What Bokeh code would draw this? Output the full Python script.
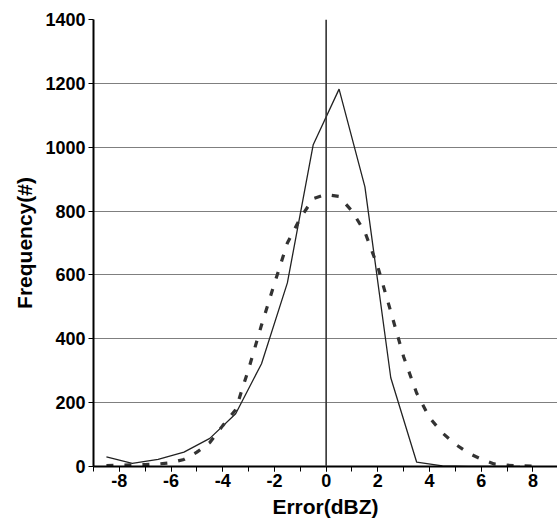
from bokeh.plotting import figure
from bokeh.models import FixedTicker, Span, Range1d
from bokeh.embed import file_html
from bokeh.resources import INLINE

# Solid series: frequency per 1-dBZ bin (bin centres)
bin_centers = [-8.5, -7.5, -6.5, -5.5, -4.5, -3.5, -2.5, -1.5, -0.5, 0.5, 1.5, 2.5, 3.5, 4.5, 5.5, 6.5, 7.5]
solid_freq = [30, 10, 22, 45, 88, 165, 322, 575, 1008, 1182, 876, 278, 14, 2, 0, 0, 0]

# Dashed (smoothed) series, every 0.5 dBZ
dashed_x = [-8.5, -8, -7.5, -7, -6.5, -6, -5.5, -5, -4.5, -4, -3.5, -3, -2.5, -2, -1.5, -1, -0.5,
            0, 0.5, 1, 1.5, 2, 2.5, 3, 3.5, 4, 4.5, 5, 5.5, 6, 6.5, 7, 7.5, 8]
dashed_freq = [3, 4, 5, 6, 8, 12, 22, 45, 75, 128, 178, 305, 443, 573, 700, 778, 839,
               852, 846, 800, 734, 625, 485, 343, 230, 153, 105, 70, 42, 23, 8, 4, 2, 1]

x_tick_values = [-8, -6, -4, -2, 0, 2, 4, 6, 8]
x_tick_labels = ["-8", "-6", "-4", "-2", "0", "2", "4", "6", "8"]
x_minor_values = list(range(-9, 10))
y_tick_values = [0, 200, 400, 600, 800, 1000, 1200, 1400]

FONT = "Liberation Sans"

p = figure(width=557, height=521, output_backend="svg", toolbar_location=None,
           x_range=Range1d(-9, 8.95), y_range=Range1d(0, 1400),
           min_border_left=93, min_border_top=19, min_border_right=0, min_border_bottom=55)
p.outline_line_color = None
p.background_fill_color = "white"
p.border_fill_color = "white"

p.xgrid.visible = False
p.ygrid.ticker = FixedTicker(ticks=y_tick_values)
p.ygrid.grid_line_color = "#7f7f7f"
p.ygrid.grid_line_width = 1

p.add_layout(Span(location=0, dimension="height", line_color="#333333", line_width=1.6))

p.line(bin_centers, solid_freq, line_color="#222222", line_width=1.3)
p.line(dashed_x, dashed_freq, line_color="#333333", line_width=3.2, line_dash="7 11")

xa = p.xaxis[0]
xa.ticker = FixedTicker(ticks=x_tick_values, minor_ticks=x_minor_values)
xa.major_label_overrides = dict(zip(x_tick_values, x_tick_labels))
xa.axis_label = "Error(dBZ)"
ya = p.yaxis[0]
ya.ticker = FixedTicker(ticks=y_tick_values)
ya.axis_label = "Frequency(#)"
ya.minor_tick_line_color = None

for ax in (xa, ya):
    ax.axis_line_color = "black"
    ax.axis_line_width = 2
    ax.major_tick_line_color = "black"
    ax.major_tick_in = 0
    ax.major_tick_out = 5
    ax.minor_tick_in = 0
    ax.minor_tick_out = 5
    ax.major_label_text_font = FONT
    ax.major_label_text_font_style = "bold"
    ax.major_label_text_font_size = "18px"
    ax.major_label_text_color = "black"
    ax.axis_label_text_font = FONT
    ax.axis_label_text_font_style = "bold"
    ax.axis_label_text_font_size = "21px"
    ax.axis_label_text_color = "black"

xa.major_label_standoff = 2
xa.axis_label_standoff = 5
ya.major_label_standoff = 3
ya.axis_label_standoff = 6
xa.minor_tick_line_color = "black"

open("out.html", "w").write(file_html(p, INLINE))
